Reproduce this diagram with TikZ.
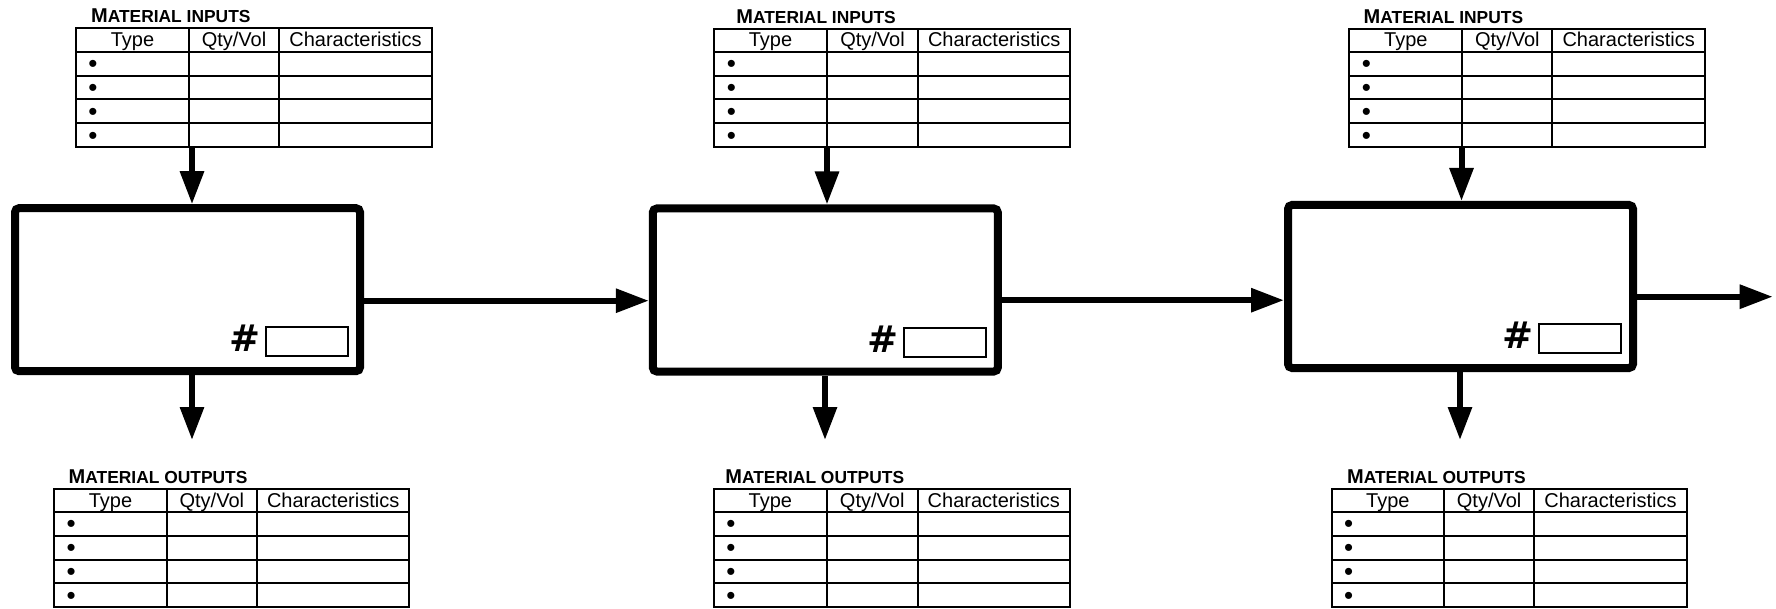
\documentclass[tikz,border=0pt]{standalone}
\usepackage{fontspec}
\setmainfont{Liberation Sans}
\newfontfamily\hashfont{DejaVu Sans}
\usetikzlibrary{arrows.meta}

\tikzset{
  stage/.style={draw, line width=4pt, rounded corners=2pt, inner sep=0pt,
    minimum width=172.5pt, minimum height=81.5pt},
  numbox/.style={draw, line width=1pt, inner sep=0pt,
    minimum width=41pt, minimum height=14.5pt},
  grid/.style={line width=1pt},
  flow/.style={line width=3pt, -{Triangle[length=16.5pt,width=11.5pt]}},
  hdr/.style={inner sep=0pt, anchor=base, font=\fontsize{10}{12}\selectfont},
  bul/.style={inner sep=0pt, font=\fontsize{13}{14}\selectfont},
  ttl/.style={inner sep=0pt, anchor=base west, font=\bfseries},
  hash/.style={inner sep=0pt, anchor=east,
    font=\hashfont\bfseries\fontsize{18.5}{20}\selectfont},
}

\begin{document}
\begin{tikzpicture}[x=0.5pt, y=-0.5pt]
\useasboundingbox (0,0) rectangle (1776,609);

% material tables: name / column lines / top / header line / bottom / title x / title word
\foreach \n/\xa/\xb/\xc/\xd/\yt/\yh/\yb/\tx/\word in {
  ti1/76/189/279/432/27.7/51.7/147.3/90.7/INPUTS,
  ti2/714.3/826.7/918.3/1070/29.3/51.7/147.3/736/INPUTS,
  ti3/1349.3/1462.3/1552.3/1705/29.3/51.7/147.3/1363.3/INPUTS,
  to1/54.3/166.7/257/409.3/489/512/607.3/68.3/OUTPUTS,
  to2/714/826.7/917.7/1070/489/512/607.3/725/OUTPUTS,
  to3/1331.7/1444/1534.3/1686.7/489/512/607.3/1346.7/OUTPUTS}
{
  \draw[grid] (\xa,\yt) rectangle (\xd,\yb);
  \draw[grid] (\xb,\yt) -- (\xb,\yb) (\xc,\yt) -- (\xc,\yb);
  \draw[grid] (\xa,\yh) -- (\xd,\yh);
  \foreach \k in {1,2,3}
    \draw[grid] (\xa,{\yh+\k*(\yb-\yh)/4}) -- (\xd,{\yh+\k*(\yb-\yh)/4});
  \node[hdr] (\n-h1) at ({(\xa+\xb)/2},{\yh-5}) {Type};
  \node[hdr] (\n-h2) at ({(\xb+\xc)/2},{\yh-5}) {Qty/Vol};
  \node[hdr] (\n-h3) at ({(\xc+\xd)/2},{\yh-5}) {Characteristics};
  \foreach \k in {1,2,3,4}
    \node[bul] (\n-b\k) at ({\xa+17},{\yh+(\k-0.5)*(\yb-\yh)/4+3}) {\textbullet};
  \node[ttl] (\n-t) at (\tx,{\yt-5.5})
    {{\fontsize{10}{12}\selectfont M}{\fontsize{8.7}{10}\selectfont ATERIAL \word}};
}

% process stages
\node[stage] (b1) at (187.5,289.7) {};
\node[stage] (b2) at (825.3,290) {};
\node[stage] (b3) at (1460.5,286.5) {};

% number fields
\foreach \b in {1,2,3} {
  \node[numbox, anchor=south east] (n\b) at ([shift={(-15,-18)}]b\b.south east) {};
  \node[hash] (h\b) at ([shift={(-4,-3)}]n\b.west) {\#};
}

% flow connectors
\coordinate (i1) at (192,147.3);
\coordinate (i2) at (827,147.3);
\coordinate (i3) at (1461.5,147.3);
\coordinate (o1) at (192,440);
\coordinate (o2) at (825,440);
\coordinate (o3) at (1460,440);
\coordinate (m12) at (0,300.7);
\coordinate (m23) at (0,300.2);
\coordinate (fin) at (1772.7,296.7);

\foreach \b in {1,2,3} {
  \draw[flow] (i\b) -- (i\b |- b\b.north);
  \draw[flow] (o\b |- b\b.south) -- (o\b);
}
\draw[flow] (b1.east |- m12) -- (b2.west |- m12);
\draw[flow] (b2.east |- m23) -- (b3.west |- m23);
\draw[flow] (b3.east |- fin) -- (fin);
\end{tikzpicture}
\end{document}
